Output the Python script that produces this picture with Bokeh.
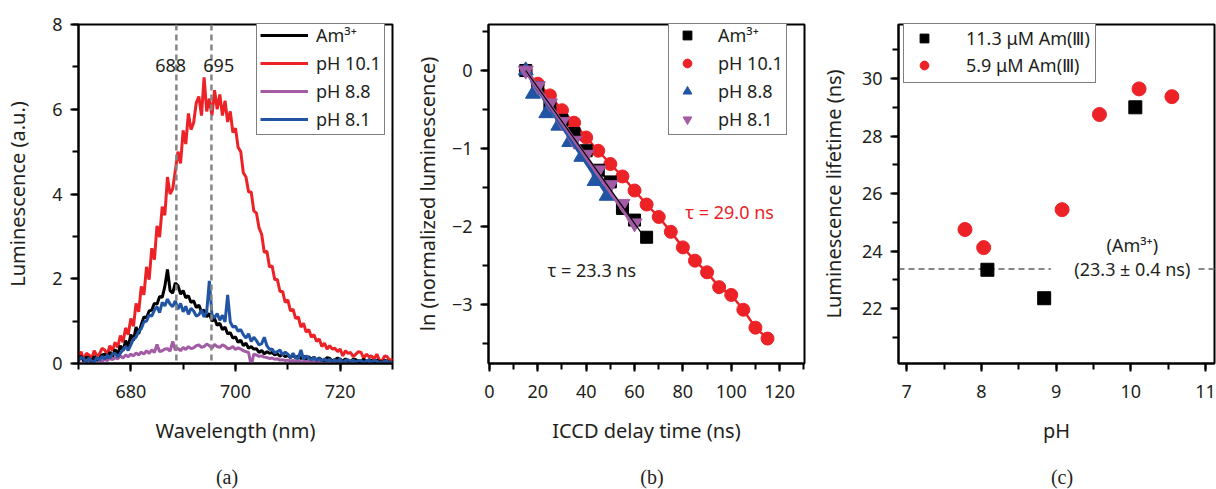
import numpy as np
from bokeh.plotting import figure
from bokeh.layouts import row, column
from bokeh.models import (Legend, LegendItem, Span, Label, BoxAnnotation, Div,
                          SingleIntervalTicker, Range1d, CustomJSTickFormatter)
from bokeh.embed import file_html
from bokeh.resources import INLINE

FONT = "Noto Sans"
SERIF = "Liberation Serif"
TXT = "#231f20"
RED = "#ec2227"
BLUE = "#2155a4"
PURPLE = "#a35ba6"
GRAY = "#858585"

# ---------------- (a) emission spectra ----------------
wavelength = np.arange(670.0, 730.25, 0.5)
lum_ph101 = [
    0.12, 0.28, 0.08, 0.24, 0.20, 0.12, 0.30, 0.18, 0.22, 0.36,
    0.32, 0.22, 0.42, 0.30, 0.50, 0.38, 0.66, 0.50, 0.84, 0.68,
    1.06, 0.88, 1.42, 1.22, 1.82, 1.62, 2.28, 1.98, 2.72, 2.45,
    3.25, 2.98, 3.70, 3.50, 4.40, 4.00, 4.12, 4.55, 5.00, 4.72,
    5.50, 5.18, 5.90, 5.52, 5.68, 6.15, 6.30, 5.85, 6.75, 5.95,
    6.25, 5.85, 6.45, 6.00, 6.35, 5.85, 6.20, 5.70, 5.95, 5.45,
    5.55, 5.10, 5.00, 4.50, 4.40, 4.05, 4.05, 3.60, 3.55, 3.20,
    3.05, 2.62, 2.65, 2.28, 2.30, 1.98, 1.98, 1.70, 1.70, 1.44,
    1.50, 1.24, 1.28, 1.06, 1.10, 0.86, 0.95, 0.74, 0.80, 0.62,
    0.68, 0.52, 0.58, 0.40, 0.48, 0.34, 0.42, 0.34, 0.36, 0.28,
    0.34, 0.18, 0.30, 0.24, 0.26, 0.16, 0.22, 0.28, 0.26, 0.12,
    0.22, 0.16, 0.18, 0.10, 0.22, 0.08, 0.06, 0.18, 0.16, 0.06,
    0.12]
lum_am = [
    0.10, 0.17, 0.06, 0.15, 0.13, 0.04, 0.17, 0.08, 0.12, 0.20,
    0.22, 0.13, 0.27, 0.16, 0.33, 0.22, 0.42, 0.30, 0.54, 0.40,
    0.68, 0.54, 0.86, 0.70, 0.92, 1.10, 1.08, 1.24, 1.26, 1.42,
    1.40, 1.58, 1.56, 1.82, 2.22, 1.72, 1.66, 1.90, 1.84, 1.64,
    1.72, 1.55, 1.60, 1.44, 1.48, 1.32, 1.38, 1.22, 1.26, 1.10,
    1.18, 1.00, 1.06, 0.90, 0.95, 0.80, 0.86, 0.70, 0.73, 0.60,
    0.63, 0.50, 0.55, 0.42, 0.48, 0.36, 0.40, 0.34, 0.35, 0.26,
    0.31, 0.23, 0.28, 0.24, 0.26, 0.20, 0.23, 0.17, 0.22, 0.16,
    0.19, 0.14, 0.20, 0.13, 0.18, 0.11, 0.18, 0.11, 0.16, 0.10,
    0.15, 0.08, 0.13, 0.08, 0.07, 0.14, 0.12, 0.06, 0.09, 0.13,
    0.10, 0.05, 0.11, 0.06, 0.05, 0.10, 0.09, 0.04, 0.06, 0.10,
    0.04, 0.09, 0.07, 0.03, 0.08, 0.04, 0.03, 0.07, 0.06, 0.02,
    0.04]
lum_ph81 = [
    0.06, 0.15, 0.11, 0.03, 0.13, 0.06, 0.04, 0.14, 0.08, 0.17,
    0.10, 0.20, 0.13, 0.22, 0.24, 0.16, 0.24, 0.33, 0.40, 0.31,
    0.44, 0.58, 0.62, 0.76, 0.82, 0.98, 1.00, 1.14, 1.12, 1.26,
    1.34, 1.20, 1.44, 1.36, 1.52, 1.40, 1.34, 1.48, 1.28, 1.42,
    1.22, 1.35, 1.16, 1.30, 1.24, 1.12, 1.15, 1.26, 1.10, 1.22,
    1.95, 1.15, 1.08, 1.18, 1.02, 1.14, 0.98, 1.62, 0.98, 0.86,
    0.88, 0.76, 0.80, 0.68, 0.60, 0.70, 0.52, 0.62, 0.54, 0.44,
    0.47, 0.62, 0.42, 0.33, 0.34, 0.25, 0.28, 0.32, 0.20, 0.27,
    0.22, 0.14, 0.24, 0.13, 0.12, 0.32, 0.10, 0.18, 0.13, 0.08,
    0.15, 0.07, 0.12, 0.06, 0.11, 0.05, 0.10, 0.04, 0.09, 0.03,
    0.12, 0.00, 0.07, 0.09, 0.04, 0.08, 0.03, 0.07, 0.07, 0.02,
    0.06, 0.08, 0.03, 0.07, 0.06, 0.02, 0.02, 0.06, 0.05, 0.01,
    0.03]
lum_ph88 = [
    0.02, 0.00, 0.03, 0.01, 0.05, 0.02, 0.04, 0.07, 0.08, 0.05,
    0.10, 0.07, 0.12, 0.09, 0.14, 0.11, 0.18, 0.13, 0.20, 0.16,
    0.22, 0.18, 0.25, 0.20, 0.27, 0.22, 0.30, 0.24, 0.32, 0.26,
    0.45, 0.28, 0.30, 0.34, 0.35, 0.29, 0.52, 0.32, 0.36, 0.30,
    0.38, 0.33, 0.40, 0.35, 0.37, 0.42, 0.44, 0.38, 0.40, 0.46,
    0.42, 0.36, 0.45, 0.40, 0.38, 0.44, 0.41, 0.35, 0.36, 0.40,
    0.33, 0.37, 0.34, 0.30, 0.28, 0.26, -0.05, 0.22, 0.20, 0.17,
    0.18, 0.15, 0.14, 0.12, 0.13, 0.10, 0.11, 0.08, 0.09, 0.07,
    0.08, 0.06, 0.07, 0.05, 0.06, 0.04, 0.05, 0.07, 0.04, 0.06,
    0.05, 0.03, 0.04, 0.02, 0.03, 0.05, 0.02, 0.04, 0.03, 0.01,
    0.02, 0.04, 0.01, 0.03, 0.02, 0.00, 0.01, 0.03, 0.02, 0.00,
    0.01, 0.02, 0.00, 0.02, 0.01, 0.00, 0.02, 0.01, 0.00, 0.01,
    0.01]
peak_wavelengths = [688.7, 695.4]
peak_labels = ["688", "695"]
peak_label_x = [687.6, 696.8]
peak_label_y = 7.03

# ---------------- (b) decay curves ----------------
t_am = [15, 20, 25, 30, 35, 40, 45, 50, 55, 60, 65]
ln_am = [0.0, -0.22, -0.45, -0.64, -0.81, -1.03, -1.28, -1.43, -1.77, -1.92, -2.14]
t_ph101 = [15, 20, 25, 30, 35, 40, 45, 50, 55, 60, 65, 70, 75, 80, 85, 90, 95, 100, 105, 110, 115]
ln_ph101 = [0.0, -0.17, -0.32, -0.51, -0.67, -0.86, -1.03, -1.20, -1.36, -1.54, -1.72,
            -1.88, -2.07, -2.27, -2.44, -2.59, -2.78, -2.88, -3.07, -3.30, -3.44]
t_ph88 = [15, 18, 23.5, 28.5, 33, 38, 43.5, 48.5]
ln_ph88 = [0.0, -0.30, -0.55, -0.71, -0.92, -1.11, -1.42, -1.61]
t_ph81 = [15, 20, 25, 30, 35, 40, 45, 50, 55, 60]
ln_ph81 = [0.0, -0.20, -0.42, -0.66, -0.90, -1.08, -1.28, -1.47, -1.71, -1.96]
fit_t_am = [15, 62.5]
fit_ln_am = [0.0, -2.07]
fit_t_ph88 = [15, 50]
fit_ln_ph88 = [0.0, -1.65]
fit_t_ph81 = [15, 60]
fit_ln_ph81 = [0.0, -2.0]
tau_texts = ["τ = 29.0 ns", "τ = 23.3 ns"]
tau_x = [81, 24]
tau_y = [-1.81, -2.56]

# ---------------- (c) lifetime vs pH ----------------
ph_113 = [8.08, 8.84, 10.06]
life_113 = [23.35, 22.36, 29.0]
ph_59 = [7.78, 8.03, 9.08, 9.58, 10.11, 10.55]
life_59 = [24.75, 24.12, 25.44, 28.75, 29.64, 29.37]
am_lifetime = 23.38
am_label_x = 10.02

captions = ["(a)", "(b)", "(c)"]
FIG_H = 466


def style(p, xint, yint):
    p.xaxis.ticker = SingleIntervalTicker(interval=xint, num_minor_ticks=2)
    p.yaxis.ticker = SingleIntervalTicker(interval=yint, num_minor_ticks=2)
    p.grid.visible = False
    p.outline_line_color = "black"
    p.outline_line_width = 2
    p.outline_line_alpha = 1
    for ax in p.axis:
        ax.axis_line_color = "black"
        ax.axis_line_width = 2
        ax.major_tick_line_width = 2
        ax.minor_tick_line_width = 2
        ax.major_tick_out = 8
        ax.major_tick_in = 0
        ax.minor_tick_out = 6
        ax.minor_tick_in = 0
        ax.major_label_text_font = FONT
        ax.major_label_text_font_size = "18px"
        ax.major_label_text_color = TXT
        ax.major_label_standoff = 8
        ax.axis_label_text_font = FONT
        ax.axis_label_text_font_size = "20px"
        ax.axis_label_text_font_style = "normal"
        ax.axis_label_text_color = TXT
    p.xaxis.major_label_standoff = 13
    p.xaxis.axis_label_standoff = 16


def caption_div(text, w, shift):
    html = ('<div style="width:%dpx; box-sizing:border-box; padding-left:%dpx; '
            'text-align:center; font-family:\'Liberation Serif\'; font-size:20px; '
            'line-height:22px; color:%s;">%s</div>' % (w, 2 * shift, TXT, text))
    return Div(text=html, width=w, height=489 - FIG_H, margin=0)


def legend_style(leg):
    leg.border_line_color = "black"
    leg.border_line_width = 1.5
    leg.label_text_font = FONT
    leg.label_text_font_size = "18px"
    leg.label_text_color = TXT
    leg.margin = 0
    leg.background_fill_alpha = 1


# ---- panel (a)
pa = figure(width=400, height=FIG_H, x_range=Range1d(670, 730), y_range=Range1d(0, 8),
            output_backend="svg", toolbar_location=None,
            min_border_left=78, min_border_right=8, min_border_top=24,
            min_border_bottom=FIG_H - 363,
            x_axis_label="Wavelength (nm)", y_axis_label="Luminescence (a.u.)")
style(pa, 20, 2)
pa.yaxis.axis_label_standoff = 18
r_red = pa.line(wavelength, lum_ph101, line_color=RED, line_width=3)
r_pur = pa.line(wavelength, lum_ph88, line_color=PURPLE, line_width=3)
r_blk = pa.line(wavelength, lum_am, line_color="black", line_width=3)
r_blu = pa.line(wavelength, lum_ph81, line_color=BLUE, line_width=3)
for xw in peak_wavelengths:
    pa.add_layout(Span(location=xw, dimension="height", line_color=GRAY,
                       line_width=2.5, line_dash="6 4"))
for xl, tl in zip(peak_label_x, peak_labels):
    pa.add_layout(Label(x=xl, y=peak_label_y, text=tl, text_align="center",
                        text_baseline="middle", text_font=FONT, text_font_size="18px",
                        text_color=TXT))
leg_a = Legend(items=[LegendItem(label="Am³⁺", renderers=[r_blk]),
                      LegendItem(label="pH 10.1", renderers=[r_red]),
                      LegendItem(label="pH 8.8", renderers=[r_pur]),
                      LegendItem(label="pH 8.1", renderers=[r_blu])],
               location=(178, 228), glyph_width=48, glyph_height=22,
               label_standoff=8, spacing=4, padding=3)
legend_style(leg_a)
pa.add_layout(leg_a)

# ---- panel (b)
pb = figure(width=410, height=FIG_H, x_range=Range1d(-0.4, 130.3), y_range=Range1d(-3.76, 0.59),
            output_backend="svg", toolbar_location=None,
            min_border_left=88, min_border_right=6, min_border_top=24,
            min_border_bottom=FIG_H - 363,
            x_axis_label="ICCD delay time (ns)", y_axis_label="ln (normalized luminescence)")
style(pb, 20, 1)
pb.yaxis.formatter = CustomJSTickFormatter(
    code="return tick < 0 ? '\\u2212' + String(-tick) : String(tick);")
pb.yaxis.axis_label_standoff = 8
pb.line(t_ph101, ln_ph101, line_color=RED, line_width=2.5)
s_red = pb.scatter(t_ph101, ln_ph101, marker="circle", size=13, fill_color=RED, line_color=RED)
s_blk = pb.scatter(t_am, ln_am, marker="square", size=12, fill_color="black", line_color="black")
s_blu = pb.scatter(t_ph88, ln_ph88, marker="triangle", size=15, fill_color=BLUE, line_color=BLUE)
s_pur = pb.scatter(t_ph81, ln_ph81, marker="inverted_triangle", size=15,
                   fill_color=PURPLE, line_color=PURPLE)
pb.line(fit_t_ph88, fit_ln_ph88, line_color=BLUE, line_width=4)
pb.line(fit_t_ph81, fit_ln_ph81, line_color=PURPLE, line_width=4)
pb.line(fit_t_am, fit_ln_am, line_color="black", line_width=1.2)
for txt, xx, yy, col in zip(tau_texts, tau_x, tau_y, [RED, TXT]):
    pb.add_layout(Label(x=xx, y=yy, text=txt, text_align="left", text_baseline="middle",
                        text_font=FONT, text_font_size="18px", text_color=col))
leg_b = Legend(items=[LegendItem(label="Am³⁺", renderers=[s_blk]),
                      LegendItem(label="pH 10.1", renderers=[s_red]),
                      LegendItem(label="pH 8.8", renderers=[s_blu]),
                      LegendItem(label="pH 8.1", renderers=[s_pur])],
               location=(180, 228), glyph_width=30, glyph_height=22,
               label_standoff=16, spacing=4, padding=3)
legend_style(leg_b)
pb.add_layout(leg_b)

# ---- panel (c)
pc = figure(width=406, height=FIG_H, x_range=Range1d(6.89, 11.12), y_range=Range1d(20.09, 31.88),
            output_backend="svg", toolbar_location=None,
            min_border_left=88, min_border_right=2, min_border_top=24,
            min_border_bottom=FIG_H - 363,
            x_axis_label="pH", y_axis_label="Luminescence lifetime (ns)")
style(pc, 1, 2)
pc.yaxis.axis_label_standoff = 12
pc.add_layout(Span(location=am_lifetime, dimension="width", line_color=GRAY,
                   line_width=2, line_dash="6 4", level="underlay"))
pc.add_layout(BoxAnnotation(left=8.93, right=10.87, bottom=am_lifetime - 0.15,
                            top=am_lifetime + 0.15, fill_color="white", fill_alpha=1,
                            line_alpha=0, level="underlay"))
c_blk = pc.scatter(ph_113, life_113, marker="square", size=13, fill_color="black", line_color="black")
c_red = pc.scatter(ph_59, life_59, marker="circle", size=14, fill_color=RED, line_color=RED)
pc.add_layout(Label(x=am_label_x, y=24.22, text="(Am³⁺)", text_align="center",
                    text_baseline="middle", text_font=FONT, text_font_size="18px",
                    text_color=TXT))
pc.add_layout(Label(x=am_label_x, y=am_lifetime, text="(23.3 ± 0.4 ns)", text_align="center",
                    text_baseline="middle", text_font=FONT, text_font_size="18px",
                    text_color=TXT))
leg_c = Legend(items=[LegendItem(label="11.3 μM Am(Ⅲ)", renderers=[c_blk]),
                      LegendItem(label="5.9 μM Am(Ⅲ)", renderers=[c_red])],
               location=(5, 280), glyph_width=30, glyph_height=22,
               label_standoff=27, spacing=3, padding=5)
legend_style(leg_c)
pc.add_layout(leg_c)

layout = column(row(pa, pb, pc, spacing=0),
                row(caption_div(captions[0], 400, 27), caption_div(captions[1], 410, 47),
                    caption_div(captions[2], 406, 49), spacing=0),
                spacing=0)
open("out.html", "w").write(file_html(layout, INLINE))
